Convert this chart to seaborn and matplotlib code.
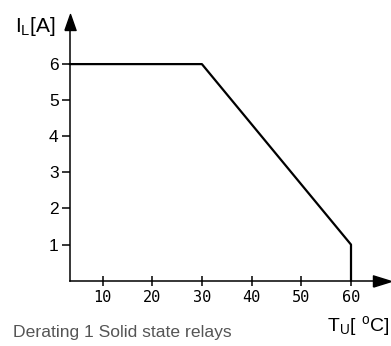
import matplotlib
matplotlib.use("Agg")
import matplotlib.pyplot as plt
import matplotlib.transforms as mtransforms
import seaborn as sns
import pandas as pd

# Data
temperature = [3.4, 30, 60, 60]
current = [6, 6, 1, 0]
x_ticks = [10, 20, 30, 40, 50, 60]
y_ticks = [1, 2, 3, 4, 5, 6]

sns.set_theme(style="white")
plt.rcParams["font.family"] = ["Liberation Sans", "DejaVu Sans"]

W, H = 391, 346
fig = plt.figure(figsize=(W / 100, H / 100), dpi=100)
left_px, right_px, bottom_px, top_px = 69.7, 373, 280.7, 30
ax = fig.add_axes([left_px / W, (H - bottom_px) / H,
                   (right_px - left_px) / W, (bottom_px - top_px) / H])

df = pd.DataFrame({"T": temperature, "I": current})
sns.lineplot(data=df, x="T", y="I", sort=False, estimator=None, errorbar=None,
             color="black", linewidth=1.6, ax=ax, clip_on=False)

ax.set_xlim(3.4, 3.4 + (right_px - left_px) / 4.97)
ax.set_ylim(0, (bottom_px - top_px) / 36.1)
ax.set_xticks(x_ticks)
ax.set_yticks(y_ticks)
ax.set_xticklabels([str(v) for v in x_ticks], family="DejaVu Sans Mono", fontsize=11)
ax.set_yticklabels([str(v) for v in y_ticks], fontsize=12.5)
ax.set_xlabel("")
ax.set_ylabel("")
for s in ["top", "right"]:
    ax.spines[s].set_visible(False)
for s in ["left", "bottom"]:
    ax.spines[s].set_color("black")
    ax.spines[s].set_linewidth(1.1)
ax.tick_params(axis="x", direction="inout", length=7, width=1.1, color="black",
               pad=3, labelcolor="black", bottom=True)
ax.tick_params(axis="y", direction="out", length=6, width=1.1, color="black",
               pad=2, labelcolor="black", left=True)

# Axis arrows
arrow_x = [(-1, -0.62), (1, 0), (-1, 0.62), (-1, -0.62)]
arrow_y = [(-0.7, -1), (0, 1), (0.7, -1), (-0.7, -1)]
tx = mtransforms.offset_copy(ax.transAxes, fig=fig, x=9, y=0, units="dots")
ax.plot([1], [0], marker=arrow_x, markersize=13, color="black",
        transform=tx, clip_on=False, linestyle="none")
ty = mtransforms.offset_copy(ax.transAxes, fig=fig, x=0, y=8, units="dots")
ax.plot([0], [1], marker=arrow_y, markersize=11.5, color="black",
        transform=ty, clip_on=False, linestyle="none")

# Axis labels
fig.text(15 / W, 1 - 26 / H, r"$\mathregular{I_L[A]}$", fontsize=15,
         ha="left", va="center", color="black")
fig.text(390 / W, 1 - 326 / H, r"$\mathregular{T_U[\ ^oC]}$", fontsize=14,
         ha="right", va="center", color="black")

# Caption
fig.text(13 / W, 1 - 333 / H, "Derating 1 Solid state relays", fontsize=12.6,
         ha="left", va="center", color="#555555")

fig.savefig("out.png", dpi=100)
